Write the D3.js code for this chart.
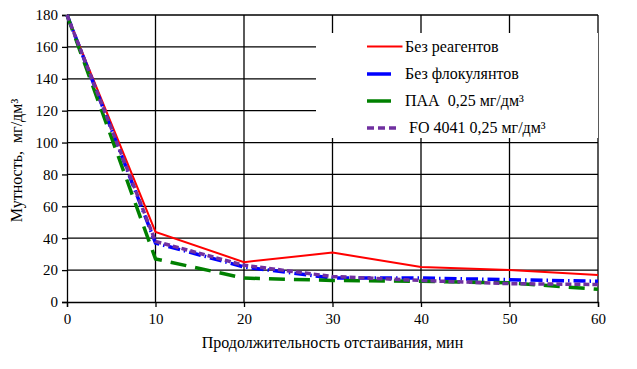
<!DOCTYPE html>
<html><head><meta charset="utf-8">
<script src="https://cdn.jsdelivr.net/npm/d3@7"></script>
<style>body{margin:0;background:#fff}svg{display:block}</style>
</head><body>
<svg id="c" width="637" height="369"></svg>
<script>
const times = [0, 10, 20, 30, 40, 50, 60];
const noReagents = [180, 44, 25, 31, 22, 20, 17];
const noFlocculants = [180, 37, 22, 15, 15, 14, 13];
const paa = [180, 27, 15, 13.5, 13, 12, 8];
const fo4041 = [180, 38, 23, 16, 13.5, 11.5, 11];
const seriesNames = ["Без реагентов", "Без флокулянтов", "ПАА  0,25 мг/дм³", " FO 4041 0,25 мг/дм³"];
const xTicks = [0, 10, 20, 30, 40, 50, 60];
const yTicks = [0, 20, 40, 60, 80, 100, 120, 140, 160, 180];

const FONT = "Liberation Serif";
const svg = d3.select("#c");
const L = 67, R = 598, T = 15, B = 302;
const x = d3.scaleLinear().domain([0, 60]).range([L, R]);
const y = d3.scaleLinear().domain([0, 180]).range([B, T]);

// grid
svg.append("g").selectAll("line").data(yTicks.slice(1)).join("line")
  .attr("x1", L).attr("x2", R).attr("y1", d => y(d)).attr("y2", d => y(d))
  .attr("stroke", "#000").attr("stroke-width", 1.3);
svg.append("g").selectAll("line").data(xTicks.slice(1)).join("line")
  .attr("y1", T).attr("y2", B).attr("x1", d => x(d)).attr("x2", d => x(d))
  .attr("stroke", "#000").attr("stroke-width", 1.3);

// axes
const ya = svg.append("g").attr("transform", `translate(${L},0)`)
  .call(d3.axisLeft(y).tickValues(yTicks).tickSize(5).tickPadding(4));
const xa = svg.append("g").attr("transform", `translate(0,${B})`)
  .call(d3.axisBottom(x).tickValues(xTicks).tickSize(5).tickPadding(6));
[ya, xa].forEach(a => {
  a.attr("font-family", FONT).attr("font-size", 15);
  a.select(".domain").attr("stroke", "#000").attr("stroke-width", 1.3);
  a.selectAll(".tick line").attr("stroke", "#000").attr("stroke-width", 1.3);
  a.selectAll("text").attr("font-family", FONT).attr("font-size", 15).attr("fill", "#000");
});

// legend background
svg.append("rect").attr("x", 316).attr("y", 33).attr("width", 282).attr("height", 105).attr("fill", "#fff");

const series = [
  {v: noReagents, color: "#ff0000", w: 2, dash: null},
  {v: noFlocculants, color: "#0000ff", w: 3.5, dash: "12,4,1.5,4"},
  {v: paa, color: "#008000", w: 3.5, dash: "16,9"},
  {v: fo4041, color: "#7030a0", w: 3.5, dash: "6,3"}
];
const line = d3.line().x((d, i) => x(times[i])).y(d => y(d));
series.forEach(s => {
  svg.append("path").datum(s.v).attr("d", line).attr("fill", "none")
    .attr("stroke", s.color).attr("stroke-width", s.w)
    .attr("stroke-dasharray", s.dash);
});

// legend
const ly = [46.5, 74, 101, 128];
const lx2 = [402.5, 391, 391, 400];
const tx = [405, 405, 405, 405];
series.forEach((s, i) => {
  svg.append("line").attr("x1", 367).attr("x2", lx2[i]).attr("y1", ly[i]).attr("y2", ly[i])
    .attr("stroke", s.color).attr("stroke-width", s.w)
    .attr("stroke-dasharray", i === 3 ? "7,4" : null);
  svg.append("text").attr("x", tx[i]).attr("y", ly[i] + 5).attr("font-size", 16).attr("font-family", FONT)
    .attr("fill", "#000").style("white-space", "pre").text(seriesNames[i]);
});

// axis titles
svg.append("text").attr("x", (L + R) / 2).attr("y", 348).attr("text-anchor", "middle")
  .attr("font-size", 16).attr("font-family", FONT).attr("fill", "#000")
  .text("Продолжительность отстаивания, мин");
svg.append("text").attr("transform", `translate(22,${(T + B) / 2 + 2}) rotate(-90)`)
  .attr("text-anchor", "middle").attr("font-size", 16).attr("font-family", FONT).attr("fill", "#000")
  .style("white-space", "pre").text("Мутность,  мг/дм³");
</script>
</body></html>
